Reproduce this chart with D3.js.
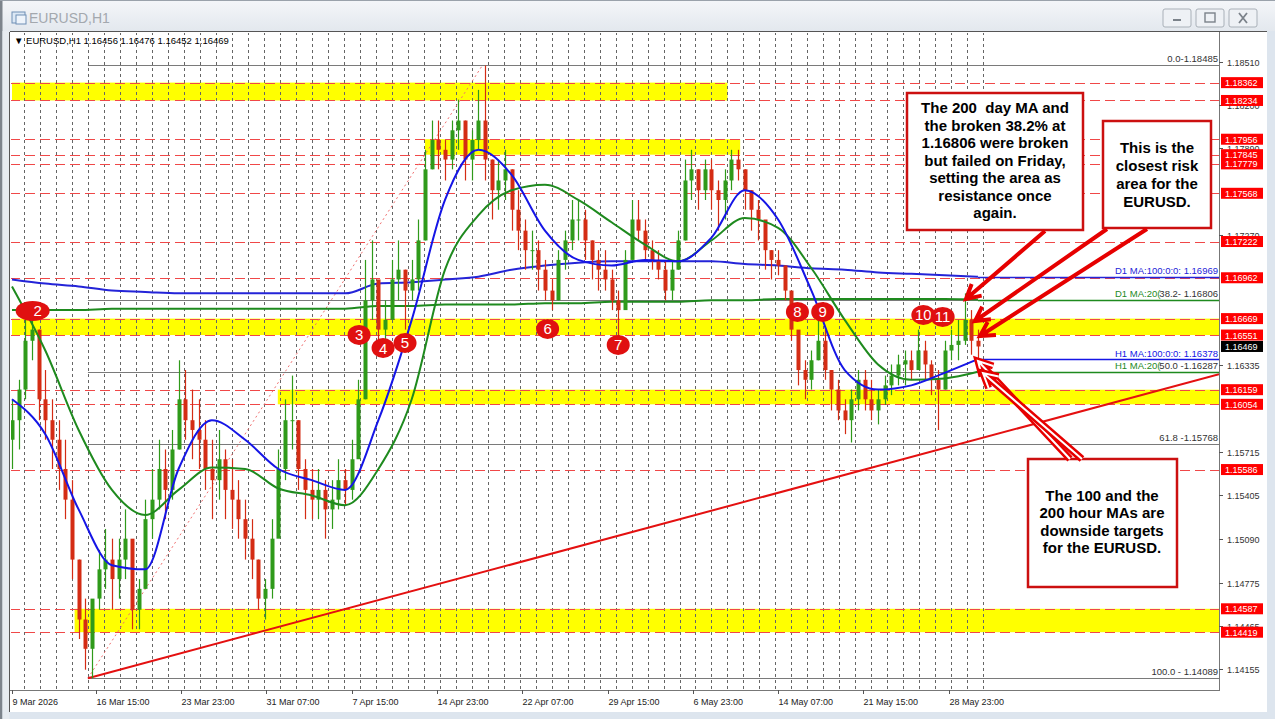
<!DOCTYPE html>
<html><head><meta charset="utf-8">
<script src="https://cdn.jsdelivr.net/npm/d3@7"></script>
<style>
html,body{margin:0;padding:0;background:#dfe6ee;overflow:hidden}
svg{display:block}
</style></head><body>
<svg id="c" width="1275" height="719"></svg>
<script>
// ---------------- DATA ----------------
const symbolTitle = "EURUSD,H1";
const headerText = "EURUSD,H1  1.16456 1.16476 1.16452 1.16469";

const timeTickBars = [9, 135, 263, 391, 519, 647, 775, 903, 1031, 1159, 1287, 1415];
const timeTickLabels = ["9 Mar 2026","16 Mar 15:00","23 Mar 23:00","31 Mar 07:00","7 Apr 15:00","14 Apr 23:00","22 Apr 07:00","29 Apr 15:00","6 May 23:00","14 May 07:00","21 May 15:00","28 May 23:00"];

const priceTicks = [1.18510,1.18200,1.17890,1.17270,1.16335,1.15715,1.15405,1.15090,1.14775,1.14465,1.14155];
const levelPrices = [1.18362,1.18234,1.17956,1.17845,1.17779,1.17568,1.17222,1.16962,1.16669,1.16551,1.16159,1.16054,1.15586,1.14587,1.14419];
const lastPrice = 1.16469;

// candles: each candle aggregates 10 hourly bars
const firstBar = 9, barsPerCandle = 10, firstOpen = 1.1580;
const candleHigh = [1.1609,1.1623,1.1666,1.1673,1.1659,1.1630,1.1609,1.1594,1.1580,1.1551,
 1.1494,1.1466,1.1451,1.1501,1.1516,1.1509,1.1509,1.1530,1.1494,1.1480,
 1.1537,1.1559,1.1580,1.1573,1.1587,1.1637,1.1630,1.1616,1.1609,1.1594,
 1.1580,1.1587,1.1573,1.1566,1.1551,1.1537,1.1523,1.1494,1.1480,1.1523,
 1.1573,1.1609,1.1626,1.1594,1.1566,1.1559,1.1559,1.1551,1.1551,1.1566,
 1.1559,1.1580,1.1623,1.1709,1.1723,1.1680,1.1680,1.1709,1.1723,1.1702,
 1.1709,1.1738,1.1788,1.1809,1.1809,1.1795,1.1809,1.1824,1.1809,1.1802,
 1.1831,1.18485,1.1781,1.1781,1.1788,1.1774,1.1759,1.1738,1.1730,1.1723,
 1.1709,1.1695,1.1716,1.1730,1.1752,1.1752,1.1745,1.1723,1.1716,1.1716,
 1.1702,1.1687,1.1716,1.1752,1.1752,1.1738,1.1723,1.1716,1.1709,1.1709,
 1.1730,1.1781,1.1788,1.1774,1.1781,1.1781,1.1766,1.1774,1.1788,1.1788,
 1.1774,1.1759,1.1752,1.1730,1.1716,1.1716,1.1705,1.1687,1.1651,1.1637,
 1.1644,1.1666,1.1659,1.1630,1.1623,1.1609,1.1616,1.1630,1.1630,1.1623,
 1.1616,1.1626,1.1634,1.1641,1.1644,1.1644,1.1659,1.1651,1.1637,1.1630,
 1.1651,1.1659,1.1666,1.1685,1.1673,1.1659];
const candleLow = [1.1559,1.1573,1.1609,1.1637,1.1594,1.1580,1.1559,1.1544,1.1523,1.1480,
 1.1437,1.1415,1.14089,1.1458,1.1473,1.1458,1.1466,1.1480,1.1444,1.1444,
 1.1473,1.1509,1.1530,1.1523,1.1537,1.1573,1.1580,1.1566,1.1559,1.1544,
 1.1523,1.1537,1.1523,1.1516,1.1509,1.1494,1.1480,1.1458,1.1451,1.1466,
 1.1516,1.1551,1.1573,1.1544,1.1523,1.1523,1.1523,1.1509,1.1516,1.1530,
 1.1533,1.1537,1.1573,1.1609,1.1666,1.1648,1.1644,1.1673,1.1680,1.1659,
 1.1680,1.1687,1.1723,1.1774,1.1774,1.1766,1.1774,1.1788,1.1766,1.1766,
 1.1788,1.1766,1.1738,1.1745,1.1752,1.1730,1.1716,1.1702,1.1702,1.1687,
 1.1680,1.1673,1.1680,1.1702,1.1716,1.1723,1.1709,1.1695,1.1687,1.1687,
 1.1673,1.1655,1.1680,1.1716,1.1723,1.1709,1.1702,1.1695,1.1680,1.1680,
 1.1702,1.1723,1.1752,1.1745,1.1752,1.1745,1.1730,1.1738,1.1759,1.1766,
 1.1745,1.1730,1.1723,1.1702,1.1695,1.1698,1.1680,1.1651,1.1619,1.1609,
 1.1616,1.1637,1.1623,1.1601,1.1594,1.1584,1.1578,1.1601,1.1601,1.1594,
 1.1591,1.1605,1.1612,1.1619,1.1619,1.1623,1.1630,1.1623,1.1612,1.1587,
 1.1616,1.1637,1.1637,1.1648,1.1641,1.1637];
const candleClose = [1.1594,1.1616,1.1651,1.1659,1.1609,1.1594,1.1580,1.1559,1.1537,1.1494,
 1.1451,1.1430,1.1466,1.1487,1.1494,1.1480,1.1494,1.1509,1.1458,1.1473,
 1.1523,1.1537,1.1559,1.1544,1.1573,1.1609,1.1594,1.1587,1.1580,1.1559,
 1.1551,1.1566,1.1544,1.1537,1.1523,1.1509,1.1494,1.1466,1.1473,1.1509,
 1.1559,1.1594,1.1594,1.1559,1.1544,1.1537,1.1544,1.1530,1.1537,1.1551,
 1.1544,1.1566,1.1609,1.1680,1.1695,1.1659,1.1666,1.1695,1.1702,1.1687,
 1.1695,1.1723,1.1774,1.1795,1.1788,1.1781,1.1802,1.1809,1.1781,1.1795,
 1.1809,1.1781,1.1759,1.1766,1.1774,1.1745,1.1730,1.1716,1.1716,1.1702,
 1.1687,1.1680,1.1709,1.1723,1.1738,1.1738,1.1723,1.1709,1.1702,1.1695,
 1.1680,1.1673,1.1709,1.1738,1.1730,1.1716,1.1709,1.1702,1.1687,1.1702,
 1.1723,1.1766,1.1774,1.1759,1.1774,1.1759,1.1752,1.1766,1.1781,1.1774,
 1.1759,1.1745,1.1738,1.1716,1.1709,1.1705,1.1687,1.1659,1.1630,1.1623,
 1.1637,1.1651,1.1630,1.1616,1.1601,1.1594,1.1609,1.1623,1.1609,1.1601,
 1.1609,1.1619,1.1626,1.1634,1.1637,1.1630,1.1644,1.1634,1.1623,1.1616,
 1.1644,1.1648,1.1651,1.1666,1.1651,1.16469];

// moving averages sampled at these bars
const maBars = [9,59,109,159,209,259,309,359,409,459,509,559,609,659,709,759,809,859,909,959,1009,1059,1109,1159,1209,1259,1309,1359,1409,1459];
const h1Ma100 = [1.1609,1.1584,1.1530,1.1490,1.1487,1.1559,1.1594,1.1580,1.1559,1.1551,1.1544,1.1594,1.1666,1.1752,1.1788,1.1770,1.1730,1.1709,1.1705,1.1709,1.1708,1.1725,1.1759,1.1738,1.1687,1.1630,1.1616,1.1619,1.1628,1.16378];
const h1Ma200 = [1.1690,1.1644,1.1587,1.1544,1.1526,1.1544,1.1560,1.1559,1.1545,1.1540,1.1533,1.1559,1.1609,1.1702,1.1741,1.1759,1.1763,1.1752,1.1736,1.1720,1.1708,1.1723,1.1739,1.1732,1.1703,1.1666,1.1634,1.1623,1.1624,1.16287];
const d1Ma100 = [1.1695,1.1692,1.1690,1.1687,1.1686,1.1685,1.1685,1.1685,1.1685,1.1685,1.1685,1.1692,1.1693,1.1695,1.1697,1.1702,1.1705,1.1707,1.1708,1.1708,1.1708,1.1708,1.1706,1.1705,1.1703,1.1702,1.1700,1.1699,1.1698,1.16969];
const d1Ma200 = [1.1673,1.1673,1.1673,1.1674,1.1674,1.1674,1.1674,1.1674,1.1674,1.1674,1.1674,1.1676,1.1676,1.1677,1.1677,1.1677,1.1678,1.1678,1.1679,1.1679,1.1679,1.1680,1.1680,1.1681,1.1681,1.1681,1.1681,1.1681,1.1681,1.16806];
const maLabels = ["D1 MA:100:0:0: 1.16969","D1 MA:20(","H1 MA:100:0:0: 1.16378","H1 MA:20("];

// yellow zones
const zoneTop = [1.18362,1.17956,1.16669,1.16159,1.14587];
const zoneBottom = [1.18234,1.17845,1.16551,1.16054,1.14419];
const zoneStartBar = [9,629,9,408,103];
const zoneEndBar = [1083,1102,null,null,null];

// fibonacci
const fibStartBar = 123, fibEndBar = 715;
const fibValues = [1.18485,1.16806,1.16287,1.15768,1.14089];
const fibLabels = ["0.0-1.18485","38.2- 1.16806","50.0 -1.16287","61.8 -1.15768","100.0 - 1.14089"];

// trend line
const trendBars = [123, 1471];
const trendPrices = [1.14089, 1.1582];

// numbered markers
const markerLabels = ["2","3","4","5","6","7","8","9","10","11"];
const markerBars = [40,530,566,599,813,919,1188,1226,1377,1406];
const markerPrices = [1.16724,1.16552,1.16458,1.16494,1.16595,1.16480,1.16717,1.16717,1.16695,1.16681];

// notes
const note1 = ["The 200  day MA and","the broken 38.2% at","1.16806 were broken","but failed on Friday,","setting the area as","resistance once","again."];
const note2 = ["This is the","closest risk","area for the","EURUSD."];
const note3 = ["The 100 and the","200 hour MAs are","downside targets","for the EURUSD."];

// ---------------- DRAW ----------------
const F = "'Liberation Sans', Arial, sans-serif";
const L = 10, T = 32, R = 1219, B = 690;
const x = d3.scaleLinear().domain([0, 1440]).range([6, 965.3]);
const y = d3.scaleLinear().domain([1.14155, 1.18510]).range([669, 62]);
const svg = d3.select("#c");
const defs = svg.append("defs");
const tg = defs.append("linearGradient").attr("id","tb").attr("x1",0).attr("y1",0).attr("x2",0).attr("y2",1);
tg.append("stop").attr("offset","0%").attr("stop-color","#f4f6f9");
tg.append("stop").attr("offset","100%").attr("stop-color","#e3e8ee");
defs.append("clipPath").attr("id","plot").append("rect").attr("x",L+1).attr("y",T+1).attr("width",R-L-1).attr("height",B-T-1);

// window frame
svg.append("rect").attr("width",1275).attr("height",719).attr("fill","#dde5ee");
svg.append("rect").attr("x",0).attr("y",0).attr("width",1275).attr("height",31).attr("fill","url(#tb)");
svg.append("rect").attr("x",0).attr("y",0).attr("width",2.5).attr("height",719).attr("fill","#7d848c");
svg.append("rect").attr("x",2.5).attr("y",31).attr("width",7).attr("height",688).attr("fill","#e6ebf0");
svg.append("line").attr("x1",0).attr("x2",1275).attr("y1",0.5).attr("y2",0.5).attr("stroke","#9aa2ab");
// title icon
const ic = svg.append("g");
ic.append("rect").attr("x",12).attr("y",12).attr("width",13).attr("height",11).attr("fill","#dce8f5").attr("stroke","#6f8fb5");
ic.append("rect").attr("x",16).attr("y",15).attr("width",10).attr("height",9).attr("fill","#eef4fb").attr("stroke","#6f8fb5");
svg.append("text").attr("x",29).attr("y",23).text(symbolTitle).attr("fill","#a3a8ae").style("font","14px "+F);
// buttons
[[1163,"min"],[1196,"max"],[1229,"close"]].forEach(([bx,k])=>{
  svg.append("rect").attr("x",bx).attr("y",9).attr("width",28).attr("height",18).attr("rx",2)
    .attr("fill","#eef1f5").attr("stroke","#a9b0b8");
  if(k==="min") svg.append("rect").attr("x",bx+10).attr("y",19).attr("width",8).attr("height",2).attr("fill","#7b828a");
  if(k==="max"){ svg.append("rect").attr("x",bx+9).attr("y",13).attr("width",10).attr("height",9).attr("fill","none").attr("stroke","#7b828a").attr("stroke-width",1.4);}
  if(k==="close"){ svg.append("path").attr("d",`M${bx+10},${13}L${bx+18},${23}M${bx+18},${13}L${bx+10},${23}`).attr("stroke","#7b828a").attr("stroke-width",1.8);}
});

// chart panel
svg.append("rect").attr("x",L).attr("y",T).attr("width",1257).attr("height",680).attr("fill","#ffffff");
svg.append("line").attr("x1",L-0.5).attr("x2",L-0.5).attr("y1",T).attr("y2",712).attr("stroke","#555");
svg.append("line").attr("x1",L).attr("x2",1267).attr("y1",T-0.5).attr("y2",T-0.5).attr("stroke","#555");

const plot = svg.append("g").attr("clip-path","url(#plot)");

// yellow zones
plot.selectAll(".zone").data(zoneTop).join("rect")
  .attr("x",(d,i)=>x(zoneStartBar[i]))
  .attr("width",(d,i)=>(zoneEndBar[i]===null? R : x(zoneEndBar[i])) - x(zoneStartBar[i]))
  .attr("y",d=>y(d)).attr("height",(d,i)=>y(zoneBottom[i])-y(d))
  .attr("fill","#ffff00");

// vertical grid
const gridBars = d3.range(27, 1470, 24);
plot.selectAll(".vg").data(gridBars).join("line")
  .attr("x1",d=>Math.round(x(d))+0.5).attr("x2",d=>Math.round(x(d))+0.5)
  .attr("y1",T).attr("y2",B).attr("stroke","#666").attr("stroke-dasharray","3,3");

// red dashed level lines
plot.selectAll(".lvl").data(levelPrices).join("line")
  .attr("x1",L).attr("x2",R).attr("y1",d=>Math.round(y(d))+0.5).attr("y2",d=>Math.round(y(d))+0.5)
  .attr("stroke","#f04848").attr("stroke-dasharray","10,5");

// fib lines
plot.selectAll(".fib").data(fibValues).join("line")
  .attr("x1",x(fibStartBar)).attr("x2",R).attr("y1",d=>Math.round(y(d))+0.5).attr("y2",d=>Math.round(y(d))+0.5)
  .attr("stroke","#7a7a7a");
plot.append("line").attr("x1",x(fibStartBar)).attr("y1",y(fibValues[4])).attr("x2",x(fibEndBar)).attr("y2",y(fibValues[0]))
  .attr("stroke","#f07070").attr("stroke-dasharray","2,3");

// trend line (ray)
const slope = (y(trendPrices[1])-y(trendPrices[0]))/(x(trendBars[1])-x(trendBars[0]));
plot.append("line").attr("x1",x(trendBars[0])).attr("y1",y(trendPrices[0]))
  .attr("x2",R).attr("y2",y(trendPrices[0])+slope*(R-x(trendBars[0])))
  .attr("stroke","#e41010").attr("stroke-width",2);

// MA helper
const maLine = d3.line().x(d=>x(d[0])).y(d=>y(d[1])).curve(d3.curveMonotoneX);
function drawMA(vals,color,w){
  const pts = maBars.map((b,i)=>[b,vals[i]]);
  plot.append("path").attr("d",maLine(pts)).attr("fill","none").attr("stroke",color).attr("stroke-width",w);
  const ly = Math.round(y(vals[vals.length-1]))+0.5;
  plot.append("line").attr("x1",x(maBars[maBars.length-1])).attr("x2",R).attr("y1",ly).attr("y2",ly).attr("stroke",color).attr("stroke-width",1.5);
}
drawMA(d1Ma100,"#2424d8",2);
drawMA(d1Ma200,"#1e8a1e",2);

// candles
const bull = "#2f9a1a", bear = "#d42c14";
const candles = candleClose.map((c,i)=>({bar:firstBar+i*barsPerCandle, o:i?candleClose[i-1]:firstOpen, h:candleHigh[i], l:candleLow[i], c}));
plot.selectAll(".wick").data(candles).join("line")
  .attr("x1",d=>Math.round(x(d.bar))+0.5).attr("x2",d=>Math.round(x(d.bar))+0.5)
  .attr("y1",d=>y(d.h)).attr("y2",d=>y(d.l))
  .attr("stroke",d=>d.c>=d.o?bull:bear).attr("stroke-width",1.2);
plot.selectAll(".body").data(candles).join("rect")
  .attr("x",d=>Math.round(x(d.bar))-1.5).attr("width",4)
  .attr("y",d=>y(Math.max(d.o,d.c))).attr("height",d=>Math.max(1,Math.abs(y(d.o)-y(d.c))))
  .attr("fill",d=>d.c>=d.o?bull:bear);

drawMA(h1Ma200,"#1e8a1e",2);
drawMA(h1Ma100,"#1515e6",2);

// MA labels
const lab = svg.append("g").style("font","9.5px "+F);
lab.append("text").attr("x",R-1).attr("y",y(d1Ma100[29])-3).attr("text-anchor","end").attr("fill","#2424d8").text(maLabels[0]);
lab.append("text").attr("x",1115).attr("y",y(fibValues[1])-3).attr("fill","#1e8a1e").text(maLabels[1]);
lab.append("text").attr("x",R-1).attr("y",y(h1Ma100[29])-2).attr("text-anchor","end").attr("fill","#1515e6").text(maLabels[2]);
lab.append("text").attr("x",1115).attr("y",y(fibValues[2])-3).attr("fill","#1e8a1e").text(maLabels[3]);
// fib labels
lab.selectAll(".fl").data(fibValues).join("text")
  .attr("x",R-1).attr("y",d=>y(d)-3).attr("text-anchor","end").attr("fill","#333").text((d,i)=>fibLabels[i]);

// markers
const mk = svg.append("g");
markerLabels.forEach((t,i)=>{
  const cx = x(markerBars[i]), cy = y(markerPrices[i]);
  const rx = i===0?17:(t.length>1?12:11.5);
  mk.append("ellipse").attr("cx",cx).attr("cy",cy).attr("rx",rx).attr("ry",10).attr("fill","#e01010");
  mk.append("text").attr("x",i===0?cx+5:cx).attr("y",cy+5.5).attr("text-anchor","middle").attr("fill","#fff")
    .style("font","15px "+F).text(t);
});

// notes
function note(x0,y0,w,h,lines,cx,by,lh){
  const g = svg.append("g");
  g.append("rect").attr("x",x0).attr("y",y0).attr("width",w).attr("height",h).attr("fill","#fff").attr("stroke","#cc1010").attr("stroke-width",2.5);
  lines.forEach((l,i)=>g.append("text").attr("x",cx).attr("y",by+i*lh).attr("text-anchor","middle")
    .attr("fill","#000").style("font","bold 15px "+F).style("white-space","pre").text(l));
}
note(907,93,176,137,note1,995,113,17.55);
note(1103,121,108,107,note2,1157,153,17.9);
note(1028,459,149,128,note3,1102,501,17.4);

// arrows
function arrow(x1,y1,x2,y2,hollow){
  const a = Math.atan2(y1-y2,x1-x2), len=16, sp=0.5;
  const p = `M${x1},${y1}L${x2},${y2}M${x2+len*Math.cos(a+sp)},${y2+len*Math.sin(a+sp)}L${x2},${y2}L${x2+len*Math.cos(a-sp)},${y2+len*Math.sin(a-sp)}`;
  svg.append("path").attr("d",p).attr("fill","none").attr("stroke","#e60000").attr("stroke-width",hollow?7:4).attr("stroke-linejoin","miter");
  if(hollow) svg.append("path").attr("d",p).attr("fill","none").attr("stroke","#fff").attr("stroke-width",2);
}
arrow(1045,231,966,299,false);
arrow(1107,229,975,321,false);
arrow(1147,229,980,336,false);
arrow(1070,459,978,361,true);
arrow(1082,459,983,373,true);

// axes frame
svg.append("line").attr("x1",R+0.5).attr("x2",R+0.5).attr("y1",T).attr("y2",B+0.5).attr("stroke","#777");
svg.append("line").attr("x1",L).attr("x2",R+1).attr("y1",B+0.5).attr("y2",B+0.5).attr("stroke","#777");

// price axis labels
const ax = svg.append("g").style("font","9px "+F);
priceTicks.forEach(p=>{
  const yy = Math.round(y(p))+0.5;
  ax.append("line").attr("x1",R).attr("x2",R+4).attr("y1",yy).attr("y2",yy).attr("stroke","#555");
  ax.append("text").attr("x",R+8).attr("y",yy+3.5).attr("fill","#333").text(p.toFixed(5));
});
levelPrices.forEach(p=>{
  const yy = y(p);
  ax.append("rect").attr("x",R+2).attr("y",yy-5.5).attr("width",42).attr("height",11).attr("fill","#ff0000");
  ax.append("text").attr("x",R+6).attr("y",yy+3.5).attr("fill","#fff").text(p.toFixed(5));
});
ax.append("rect").attr("x",R+2).attr("y",y(lastPrice)-5.5).attr("width",42).attr("height",11).attr("fill","#000");
ax.append("text").attr("x",R+6).attr("y",y(lastPrice)+3.5).attr("fill","#fff").text(lastPrice.toFixed(5));

// time axis
timeTickBars.forEach((b,i)=>{
  const xx = Math.round(x(b))+0.5;
  ax.append("line").attr("x1",xx).attr("x2",xx).attr("y1",B).attr("y2",B+4).attr("stroke","#555");
  ax.append("text").attr("x",xx).attr("y",B+15).attr("fill","#222").text(timeTickLabels[i]);
});

// header
svg.append("text").attr("x",14).attr("y",44).attr("fill","#000").style("font","9.5px "+F).text("\u25BC "+headerText);
</script></body></html>
